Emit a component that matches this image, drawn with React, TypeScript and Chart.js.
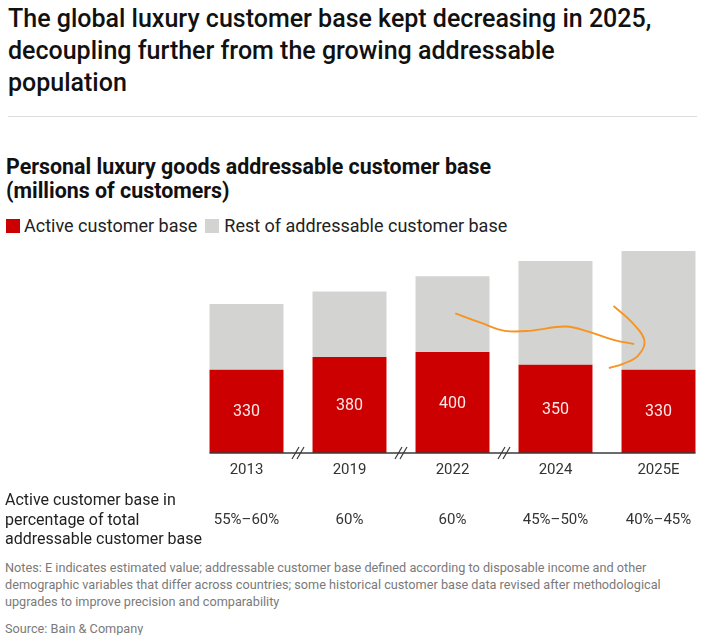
import React, { useEffect, useRef } from "react";
import { Chart, registerables } from "chart.js";

Chart.register(...registerables);

// Personal luxury goods addressable customer base, millions of customers
const years = ["2013", "2019", "2022", "2024", "2025E"];
const activeBase = [330, 380, 400, 350, 330];
const restOfBase = [260, 260, 300, 410, 470];
const activeShare = ["55%–60%", "60%", "60%", "45%–50%", "40%–45%"];
// axis breaks sit between category i and i + 1
const axisBreaksAfter = [0, 1, 2];

// hand-drawn orange annotation, in (category position, millions) pairs
const strokeOneX = [2.03, 2.3, 2.56, 2.85, 3.21, 3.46, 3.72, 3.94];
const strokeOneY = [553, 516, 484, 485, 501, 480, 448, 431];
const strokeTwoX = [3.72, 3.92, 4.05, 3.98, 3.82, 3.67];
const strokeTwoY = [582, 516, 444, 385, 353, 336];

const RED = "#cc0000";
const GREY = "#d3d3d2";
const FONT = "Roboto, 'Noto Sans', sans-serif";

const toPoints = (xs: number[], ys: number[]) => xs.map((x, i) => ({ x, y: ys[i] }));

// value labels, axis line and break marks
const baselinePlugin = {
  id: "baseline",
  afterDatasetsDraw(chart: any) {
    const els = chart.getDatasetMeta(0).data;
    if (!els.length) return;
    const ctx = chart.ctx;
    const y0 = chart.scales.y.getPixelForValue(0);
    const first = els[0];
    const last = els[els.length - 1];
    const left = first.x - first.width / 2;
    const right = last.x + last.width / 2;

    ctx.save();
    ctx.fillStyle = "#fbe9e9";
    ctx.font = `16px ${FONT}`;
    ctx.textAlign = "center";
    ctx.textBaseline = "middle";
    els.forEach((el: any, i: number) => {
      ctx.fillText(String(activeBase[i]), el.x, (el.y + el.base) / 2 + 1);
    });

    ctx.strokeStyle = "#3a3a3a";
    ctx.lineWidth = 1.5;
    ctx.beginPath();
    ctx.moveTo(left, y0);
    ctx.lineTo(right, y0);
    ctx.stroke();

    ctx.lineWidth = 1.2;
    axisBreaksAfter.forEach((i) => {
      const mx = (els[i].x + els[i + 1].x) / 2;
      [-2.5, 2.5].forEach((dx) => {
        ctx.beginPath();
        ctx.moveTo(mx + dx - 3.5, y0 + 6);
        ctx.lineTo(mx + dx + 3.5, y0 - 6);
        ctx.stroke();
      });
    });
    ctx.restore();
  },
};

function LuxuryChart() {
  const ref = useRef<HTMLCanvasElement | null>(null);

  useEffect(() => {
    if (!ref.current) return;
    const chart = new Chart(ref.current, {
      type: "bar",
      data: {
        labels: years.map((y, i) => [y, "", activeShare[i]]),
        datasets: [
          {
            label: "Active customer base",
            data: activeBase,
            backgroundColor: RED,
            stack: "base",
            grouped: false,
            barPercentage: 0.718,
            categoryPercentage: 1,
            order: 2,
          },
          {
            label: "Rest of addressable customer base",
            data: restOfBase,
            backgroundColor: GREY,
            stack: "base",
            grouped: false,
            barPercentage: 0.718,
            categoryPercentage: 1,
            order: 2,
          },
          {
            type: "line",
            label: "stroke-1",
            data: toPoints(strokeOneX, strokeOneY),
            xAxisID: "x2",
            stack: "s1",
            borderColor: "#f7931e",
            borderWidth: 1.8,
            pointRadius: 0,
            tension: 0.4,
            fill: false,
            order: 1,
          },
          {
            type: "line",
            label: "stroke-2",
            data: toPoints(strokeTwoX, strokeTwoY),
            xAxisID: "x2",
            stack: "s2",
            borderColor: "#f7931e",
            borderWidth: 1.8,
            pointRadius: 0,
            tension: 0.4,
            fill: false,
            order: 1,
          },
        ] as any,
      },
      options: {
        animation: false,
        responsive: false,
        maintainAspectRatio: false,
        layout: { padding: { left: 195, right: 10, top: 11, bottom: 2 } },
        plugins: { legend: { display: false }, tooltip: { enabled: false } },
        scales: {
          x: {
            stacked: true,
            grid: { display: false, drawTicks: false },
            border: { display: false },
            ticks: {
              color: "#333",
              padding: 5,
              maxRotation: 0,
              autoSkip: false,
              font: { family: FONT, size: 15, lineHeight: 25 / 15 },
            },
          },
          x2: {
            type: "linear",
            display: false,
            min: -0.5,
            max: 4.5,
          },
          y: {
            stacked: true,
            display: false,
            min: 0,
            max: 800,
          },
        },
      } as any,
      plugins: [baselinePlugin],
    });
    return () => chart.destroy();
  }, []);

  return (
    <canvas
      ref={ref}
      width={720}
      height={300}
      style={{ position: "absolute", left: 0, top: 240, width: 720, height: 300 }}
    />
  );
}

const abs = (top: number, left: number, extra: React.CSSProperties = {}): React.CSSProperties => ({
  position: "absolute",
  top,
  left,
  whiteSpace: "nowrap",
  fontFamily: FONT,
  ...extra,
});

export default function App() {
  return (
    <div
      style={{
        position: "fixed",
        left: 0,
        top: 0,
        width: 709,
        height: 635,
        overflow: "hidden",
        background: "#fff",
        color: "#111",
      }}
    >
      <div style={abs(3, 8, { fontSize: 25, fontWeight: 500, lineHeight: "32px", color: "#111" })}>
        The global luxury customer base kept decreasing in 2025,
        <br />
        decoupling further from the growing addressable
        <br />
        population
      </div>
      <div style={{ position: "absolute", top: 116, left: 8, width: 689, height: 1, background: "#dcdcdc" }} />
      <div style={abs(155, 6, { fontSize: 21.4, fontWeight: 700, lineHeight: "24px", color: "#111" })}>
        Personal luxury goods addressable customer base
        <br />
        (millions of customers)
      </div>
      <div style={abs(216, 6, { fontSize: 18, lineHeight: "20px", color: "#222", display: "flex", alignItems: "center" })}>
        <span style={{ width: 14, height: 14, background: RED, display: "inline-block", marginRight: 4 }} />
        <span>Active customer base</span>
        <span style={{ width: 14, height: 14, background: GREY, display: "inline-block", marginLeft: 8, marginRight: 5 }} />
        <span>Rest of addressable customer base</span>
      </div>
      <LuxuryChart />
      <div style={abs(490, 5, { fontSize: 16, lineHeight: "19.5px", color: "#222" })}>
        Active customer base in
        <br />
        percentage of total
        <br />
        addressable customer base
      </div>
      <div style={abs(559, 5, { fontSize: 12.7, lineHeight: "17px", color: "#7a7a7a" })}>
        Notes: E indicates estimated value; addressable customer base defined according to disposable income and other
        <br />
        demographic variables that differ across countries; some historical customer base data revised after methodological
        <br />
        upgrades to improve precision and comparability
      </div>
      <div style={abs(620, 5, { fontSize: 12.7, lineHeight: "17px", color: "#7a7a7a" })}>Source: Bain &amp; Company</div>
    </div>
  );
}
